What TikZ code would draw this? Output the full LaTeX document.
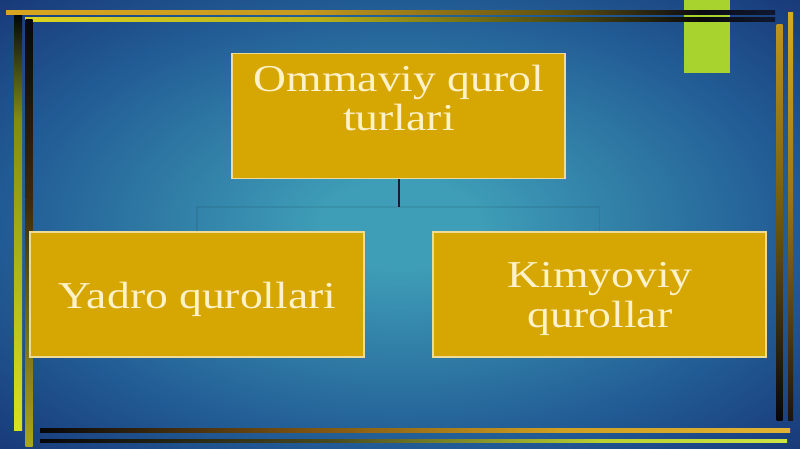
\documentclass[tikz,border=0pt]{standalone}
\usepackage{fontspec}
\newfontfamily\boxfont[FakeStretch=1.2]{Liberation Serif}
\definecolor{bgin}{HTML}{3E9DB7}
\definecolor{bgmid}{HTML}{215A94}
\definecolor{bgout}{HTML}{193B7A}
\definecolor{boxfill}{HTML}{D6A602}
\definecolor{boxline}{HTML}{EEDC96}
\definecolor{boxtext}{HTML}{FFF2C8}
\definecolor{limegreen}{HTML}{A8D22E}
\definecolor{stemcol}{HTML}{15202A}
\pgfdeclareradialshading{bgshade}{\pgfpoint{0bp}{0bp}}{color(0bp)=(bgin); color(5bp)=(bgin); color(25bp)=(bgmid); color(35bp)=(bgout); color(50bp)=(bgout)}
\newcommand\myhs[6]{\definecolor{hsa}{HTML}{#5}\definecolor{hsb}{HTML}{#6}\shade[left color=hsa,right color=hsb] (#1,#3-#4/2) rectangle (#2,#3+#4/2);}
\newcommand\myvs[6]{\definecolor{hsa}{HTML}{#5}\definecolor{hsb}{HTML}{#6}\shade[top color=hsa,bottom color=hsb] (#3-#4/2,#1) rectangle (#3+#4/2,#2);}
\begin{document}
\begin{tikzpicture}[x=1pt,y=-1pt,
  box/.style={draw=boxline, line width=1.2pt, fill=boxfill, minimum width=#1, minimum height=125pt, inner sep=0pt},
  box/.default=333pt,
  label/.style={text=boxtext, font=\boxfont\fontsize{38}{40}\selectfont, inner sep=0pt, anchor=base},
  faint/.style={draw=black, opacity=0.07, line width=1.5pt}]
\useasboundingbox (0,0) rectangle (800,449);
% background
\shade[shading=bgshade] (0,0) rectangle (800,449);
% green block
\fill[limegreen] (684,0) rectangle (730,73);
% top lines
\myhs{6}{300}{12.5}{3.5}{D9A520}{C89A20}
\myhs{300}{560}{12.5}{3.5}{C89A20}{5E5010}
\myhs{560}{700}{12.5}{3.5}{5E5010}{0A0A12}
\myhs{700}{775}{12.5}{3.5}{0A0A12}{101830}
\myhs{25}{320}{19.5}{3.5}{DCD422}{B8B018}
\myhs{320}{560}{19.5}{3.5}{B8B018}{4E4A10}
\myhs{560}{700}{19.5}{3.5}{4E4A10}{0A0A0A}
\myhs{700}{775}{19.5}{3.5}{0A0A0A}{101830}
% left lines
\myvs{16}{120}{18}{8}{05080F}{7E8E12}
\myvs{120}{430}{18}{8}{7E8E12}{D6E424}
\myvs{20}{200}{29}{7}{05080F}{3A2A10}
\myvs{200}{446}{29}{7}{3A2A10}{A8A818}
% right lines
\myvs{25}{200}{779.5}{6}{C29222}{7A5C12}
\myvs{200}{420}{779.5}{6}{7A5C12}{05060A}
\myvs{13}{200}{790.5}{5}{D4AC22}{9A7418}
\myvs{200}{420}{790.5}{5}{9A7418}{1A1410}
% bottom lines
\myhs{40}{300}{430}{4}{05060A}{7A5010}
\myhs{300}{560}{430}{4}{7A5010}{D0A020}
\myhs{560}{790}{430}{4}{D0A020}{E2B432}
\myhs{40}{330}{441}{3.5}{05060A}{4A4A20}
\myhs{330}{600}{441}{3.5}{4A4A20}{B8D030}
\myhs{600}{787}{441}{3.5}{B8D030}{CCE444}
% boxes and connectors
\node[box] (top) at (398.5,116) {};
\node[box=334pt] (left) at (197,294.5) {};
\node[box] (right) at (599.5,294.5) {};
\coordinate (mid) at (398.5,207);
\draw[faint] (mid) -| (left.north);
\draw[faint] (mid) -| (right.north);
\draw[draw=stemcol, line width=2pt] (top.south) -- (mid);
% texts
\node[label] (t1) at (399,92) {Ommaviy qurol};
\node[label] (t2) at (399,131) {turlari};
\node[label] (l1) at (197.5,308) {Yadro qurollari};
\node[label] (r1) at (600,287) {Kimyoviy};
\node[label] (r2) at (600,327) {qurollar};
\end{tikzpicture}
\end{document}
